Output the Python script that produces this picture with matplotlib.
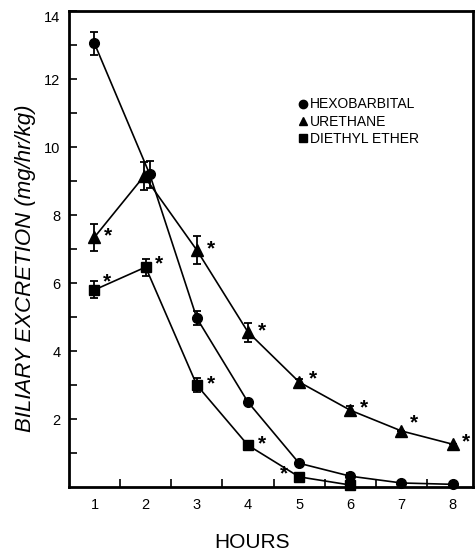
import matplotlib
matplotlib.use("Agg")
import matplotlib.pyplot as plt
import numpy as np
from matplotlib.lines import Line2D

plt.rcParams['font.family'] = ['Liberation Sans', 'DejaVu Sans']

hours = [1, 2, 3, 4, 5, 6, 7, 8]

hexo_x = [1, 2.08, 3, 4, 5, 6, 7, 8]
hexo = [13.05, 9.2, 4.97, 2.5, 0.7, 0.32, 0.12, 0.08]
hexo_err = [0.35, 0.4, 0.2, 0.1, 0.08, 0.1, 0.0, 0.0]

ure_x = [1, 1.97, 3, 4, 5, 6, 7, 8]
ure = [7.35, 9.15, 6.97, 4.56, 3.09, 2.26, 1.65, 1.26]
ure_err = [0.4, 0.42, 0.42, 0.28, 0.1, 0.12, 0.0, 0.0]
ure_sig = [1, 0, 1, 1, 1, 1, 1, 1]

eth_x = [1, 2, 3, 4, 5, 6]
eth = [5.8, 6.47, 3.0, 1.23, 0.3, 0.06]
eth_err = [0.25, 0.25, 0.2, 0.12, 0.08, 0.1]
eth_sig = [1, 1, 1, 1, 1, 0]

fig = plt.figure(figsize=(4.75, 5.56), dpi=100)
ax = fig.add_axes([0.145, 0.124, 0.851, 0.856])

kw = dict(color='black', lw=1.2, capsize=3, elinewidth=1.3, capthick=1.3, clip_on=False)
ax.errorbar(hexo_x, hexo, yerr=hexo_err, marker='o', ms=7, **kw)
ax.errorbar(ure_x, ure, yerr=ure_err, marker='^', ms=8, **kw)
ax.errorbar(eth_x, eth, yerr=eth_err, marker='s', ms=7, **kw)

# asterisk placement offsets (points)
ure_off = [(7, 1), None, (7, 1), (7, 1), (7, 2), (7, 2), (6, 6), (7, 2)]
eth_off = [(6, 6), (7, 2), (7, 1), (7, 1), (-14, 2), None]
for xs, ys, sig, offs in [(ure_x, ure, ure_sig, ure_off), (eth_x, eth, eth_sig, eth_off)]:
    for x, y, s, o in zip(xs, ys, sig, offs):
        if s:
            ax.annotate('*', (x, y), xytext=o, textcoords='offset points',
                        fontsize=15, fontweight='bold', va='center', ha='left')

ax.set_xlim(0.5, 8.4)
ax.set_ylim(0, 14)
ax.set_xticks(hours)
ax.set_xticks(np.arange(1.5, 8.5, 1), minor=True)
ax.set_yticks(np.arange(2, 15, 2))
ax.set_yticks(np.arange(1, 14, 2), minor=True)
ax.set_yticklabels(['2', '4', '6', '8', '10', '12', '14'])
ax.tick_params(axis='x', which='major', length=0, pad=8, labelsize=10.5)
ax.tick_params(axis='y', which='major', direction='in', length=6, width=1.2, labelsize=10.5, pad=6)
ax.tick_params(which='minor', direction='in', length=6, width=1.2)
ax.yaxis.get_majorticklabels()[-1].set_va('top')
for s in ax.spines.values():
    s.set_linewidth(2)

fig.text(0.053, 0.518, 'BILIARY EXCRETION (mg/hr/kg)', fontsize=16, style='italic',
         rotation=90, ha='center', va='center')
fig.text(0.531, 0.025, 'HOURS', fontsize=15, ha='center', va='center')

handles = [Line2D([], [], color='black', marker=m, ls='none', ms=6) for m in ['o', '^', 's']]
ax.legend(handles, ['HEXOBARBITAL', 'URETHANE', 'DIETHYL ETHER'], frameon=False,
          loc='upper left', bbox_to_anchor=(0.53, 0.845), handletextpad=0.0,
          handlelength=1.0, labelspacing=0.25, fontsize=10)

fig.savefig('out.png', dpi=100)
